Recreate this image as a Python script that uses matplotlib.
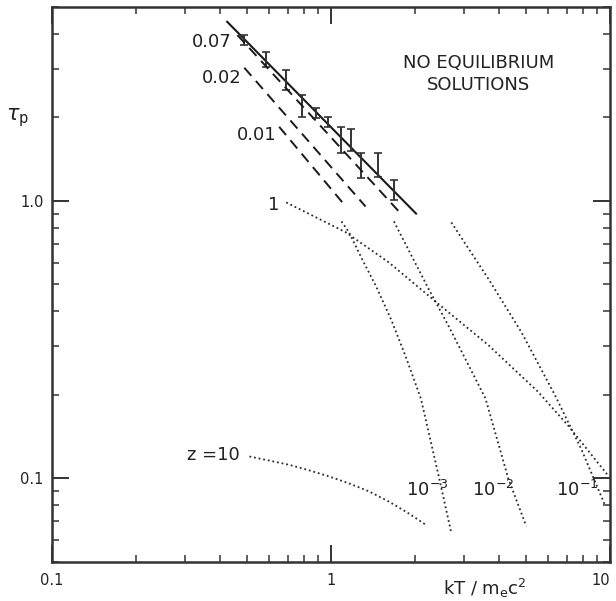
import numpy as np
import matplotlib
matplotlib.use("Agg")
import matplotlib.pyplot as plt
from matplotlib.ticker import LogLocator, NullFormatter

# solid line with error bars
solid_x = [0.422, 2.03]
solid_y = [4.45, 0.895]
err_x = [0.489, 0.586, 0.691, 0.788, 0.884, 0.975, 1.086, 1.18, 1.28, 1.47, 1.68]
err_lo = [3.65, 3.04, 2.51, 2.01, 1.995, 1.84, 1.49, 1.51, 1.21, 1.22, 1.01]
err_hi = [3.96, 3.44, 2.97, 2.41, 2.17, 2.01, 1.84, 1.81, 1.49, 1.49, 1.19]

# dashed lines
dash_07_x = [0.462, 1.75]
dash_07_y = [3.96, 0.917]
dash_02_x = [0.489, 1.33]
dash_02_y = [3.02, 0.955]
dash_01_x = [0.652, 1.13]
dash_01_y = [1.85, 0.955]

# dotted curves
z1_x = [0.691, 1.13, 1.61, 2.43, 3.67, 5.53, 7.08, 9.84]
z1_y = [0.988, 0.771, 0.601, 0.425, 0.302, 0.205, 0.155, 0.1025]
e1_x = [2.70, 3.67, 4.81, 6.36, 7.88, 9.60]
e1_y = [0.837, 0.523, 0.337, 0.199, 0.128, 0.080]
e2_x = [1.68, 2.24, 2.64, 3.58, 4.32, 5.01]
e2_y = [0.844, 0.481, 0.354, 0.194, 0.0999, 0.0673]
e3_x = [1.09, 1.16, 1.30, 1.45, 1.65, 1.85, 2.10, 2.43, 2.70]
e3_y = [0.844, 0.771, 0.610, 0.493, 0.370, 0.276, 0.194, 0.1025, 0.0635]
z10_x = [0.510, 0.601, 0.708, 0.835, 0.984, 1.16, 1.37, 1.61, 1.90, 2.20]
z10_y = [0.120, 0.116, 0.112, 0.107, 0.1017, 0.0960, 0.0898, 0.0826, 0.0748, 0.0678]

ink = "#1a1a1a"
dot_ink = "#2a2a2a"

fig = plt.figure(figsize=(6.16, 6.01), dpi=100)
ax = fig.add_axes([52 / 616, 1 - 562 / 601, 558 / 616, 555 / 601])
ax.set_xscale("log")
ax.set_yscale("log")
ax.set_xlim(0.1, 10)
ax.set_ylim(0.05, 5)

ax.plot(solid_x, solid_y, color=ink, lw=1.5, solid_capstyle="butt")

err_y = np.sqrt(np.array(err_lo) * np.array(err_hi))
yerr = [err_y - np.array(err_lo), np.array(err_hi) - err_y]
ax.errorbar(err_x, err_y, yerr=yerr, fmt="none", ecolor="#333333",
            elinewidth=1.4, capsize=3, capthick=1.2)

dash_style = (0, (5.5, 3.5))
for xs, ys in [(dash_07_x, dash_07_y), (dash_02_x, dash_02_y), (dash_01_x, dash_01_y)]:
    ax.plot(xs, ys, color=ink, lw=1.4, linestyle=dash_style)

dot_style = (0, (1, 1.6))
for xs, ys in [(z1_x, z1_y), (e1_x, e1_y), (e2_x, e2_y), (e3_x, e3_y), (z10_x, z10_y)]:
    ax.plot(xs, ys, color=dot_ink, lw=1.3, linestyle=dot_style)

lab = dict(fontsize=13, color="#222222", va="center")
ax.text(0.439, 3.74, "0.07", ha="right", **lab)
ax.text(0.477, 2.78, "0.02", ha="right", **lab)
ax.text(0.636, 1.73, "0.01", ha="right", **lab)
ax.text(0.652, 0.971, "1", ha="right", **lab)
ax.text(0.469, 0.121, "z =10", ha="right", **lab)
ax.text(1.85, 0.0906, r"10$^{\mathregular{-3}}$", ha="left", **lab)
ax.text(3.19, 0.0906, r"10$^{\mathregular{-2}}$", ha="left", **lab)
ax.text(6.41, 0.0906, r"10$^{\mathregular{-1}}$", ha="left", **lab)
ax.text(3.38, 2.87, "NO EQUILIBRIUM\nSOLUTIONS", ha="center",
        multialignment="center", linespacing=1.25, **lab)

# axes styling
for sp in ax.spines.values():
    sp.set_linewidth(1.8)
    sp.set_color("#333333")

ax.set_xticks([0.1, 1, 10], labels=["0.1", "1", "10"])
ax.set_yticks([0.1, 1.0], labels=["0.1", "1.0"])
ax.xaxis.set_minor_locator(LogLocator(base=10, subs=np.arange(2, 10)))
ax.yaxis.set_minor_locator(LogLocator(base=10, subs=np.arange(2, 10)))
ax.xaxis.set_minor_formatter(NullFormatter())
ax.yaxis.set_minor_formatter(NullFormatter())
ax.tick_params(which="both", direction="in", top=True, right=True,
               color="#333333", labelsize=10.5, labelcolor="#222222")
ax.tick_params(which="major", length=12, width=1.4)
ax.tick_params(which="minor", length=5, width=1.1)
ax.tick_params(axis="x", which="major", pad=8)
ax.tick_params(axis="y", which="major", pad=6)
# keep the last x label inside the figure
ax.get_xticklabels()[-1].set_horizontalalignment("right")

fig.text(18 / 616, 1 - 118 / 601, r"$\tau_{\mathregular{p}}$", fontsize=15,
         ha="center", va="center", color="#222222")
fig.text(485 / 616, 1 - 588 / 601, r"kT / m$_{\mathregular{e}}$c$^{\mathregular{2}}$",
         fontsize=13, ha="center", va="center", color="#222222")

fig.savefig("out.png", dpi=100, facecolor="white")
